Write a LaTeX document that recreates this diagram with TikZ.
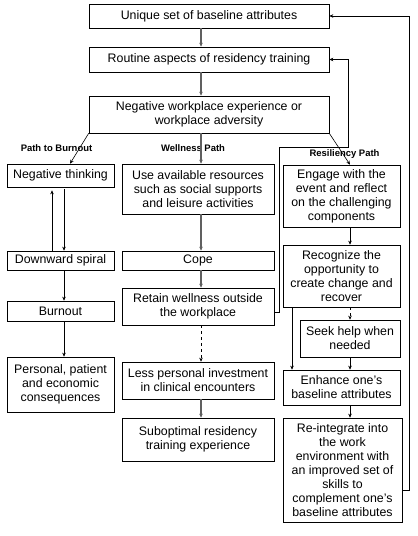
\documentclass[tikz,border=0pt]{standalone}
\usepackage{fontspec}
\setmainfont{Liberation Sans}
\usetikzlibrary{arrows.meta}

\begin{document}
\begin{tikzpicture}[x=1bp,y=-1bp,
  box/.style={draw,line width=0.6bp,inner sep=0pt,align=center,font=\fontsize{12.4}{14}\selectfont},
  pathlabel/.style={font=\fontsize{9.5}{11}\selectfont\bfseries},
  arr/.style={line width=0.6bp,-{Stealth[length=4bp,width=3.5bp]}},
  grayarr/.style={line width=1.6bp,gray!75!black,-{Stealth[length=4bp,width=3.5bp]}}]
\useasboundingbox (0,0) rectangle (417,536);

% spines of the three paths
\coordinate (wsp) at (201,0);
\coordinate (rsp) at (350,0);
\coordinate (rleft) at (292,0);
\coordinate (bdn) at (64,0);
\coordinate (bup) at (52,0);

 \node[box,minimum width=240bp,minimum height=24bp] (uniq) at (209,16) {Unique set of baseline attributes};
 \node[box,minimum width=240bp,minimum height=25bp] (routine) at (209,59.5) {Routine aspects of residency training};
 \node[box,minimum width=240bp,minimum height=37bp] (adverse) at (209,114.5) {Negative workplace experience or\\workplace adversity};

 \node[pathlabel] (lburn) at (56.5,148) {Path to Burnout};
 \node[pathlabel] (lwell) at (193,148) {Wellness Path};
 \node[pathlabel] (lres) at (344.5,154) {Resiliency Path};

% path to burnout
 \node[box,minimum width=107bp,minimum height=23bp] (negthink) at (60.5,175.5) {Negative thinking};
 \node[box,minimum width=107bp,minimum height=19bp] (spiral) at (60.5,260.5) {Downward spiral};
 \node[box,minimum width=107bp,minimum height=20bp] (burnout) at (60.5,311) {Burnout};
 \node[box,minimum width=107bp,minimum height=55bp] (personal) at (60.5,384.5) {Personal, patient\\and economic\\consequences};

% wellness path
 \node[box,minimum width=152bp,minimum height=50bp] (resources) at (198,189) {Use available resources\\such as social supports\\and leisure activities};
 \node[box,minimum width=152bp,minimum height=19bp] (cope) at (198,260.5) {Cope};
 \node[box,minimum width=152bp,minimum height=37bp] (retain) at (198,306.5) {Retain wellness outside\\the workplace};
 \node[box,minimum width=152bp,minimum height=37bp] (lessinv) at (198,380.5) {Less personal investment\\in clinical encounters};
 \node[box,minimum width=152bp,minimum height=43bp] (subopt) at (198,439.5) {Suboptimal residency\\training experience};

% resiliency path
 \node[box,minimum width=117bp,minimum height=62bp] (engage) at (341.5,196) {Engage with the\\event and reflect\\on the challenging\\components};
 \node[box,minimum width=117bp,minimum height=62bp] (recognize) at (341.5,276) {Recognize the\\opportunity to\\create change and\\recover};
 \node[box,minimum width=100bp,minimum height=37bp] (seek) at (350,338.5) {Seek help when\\needed};
 \node[box,minimum width=117bp,minimum height=35bp] (enhance) at (341.5,387.5) {Enhance one's\\baseline attributes};
 \node[box,minimum width=119bp,minimum height=104bp] (reint) at (342.5,470) {Re-integrate into\\the work\\environment with\\an improved set of\\skills to\\complement one's\\baseline attributes};

 \draw[grayarr] (uniq.south -| wsp) -- (routine.north -| wsp);
 \draw[grayarr] (routine.south -| wsp) -- (adverse.north -| wsp);
 \draw[grayarr] (adverse.south -| wsp) -- (resources.north -| wsp);
 \draw[arr] (adverse.south west) -- ([xshift=9.5bp]negthink.north);
 \draw[arr] (adverse.south east) -- (engage.north -| rsp);

 \draw[arr,shorten <=2bp] (negthink.south -| bdn) -- (spiral.north -| bdn);
 \draw[arr,shorten >=3bp] (spiral.north -| bup) -- (negthink.south -| bup);
 \draw[arr] (spiral.south -| bdn) -- (burnout.north -| bdn);
 \draw[arr] (burnout.south -| bdn) -- (personal.north -| bdn);

 \draw[grayarr] (resources.south -| wsp) -- (cope.north -| wsp);
 \draw[grayarr] (cope.south -| wsp) -- (retain.north -| wsp);
 \draw[arr,dashed] (retain.south -| wsp) -- (lessinv.north -| wsp);
 \draw[grayarr] (lessinv.south -| wsp) -- (subopt.north -| wsp);

 \draw[arr] (engage.south -| rsp) -- (recognize.north -| rsp);
 \draw[arr,dashed] (recognize.south -| rsp) -- (seek.north -| rsp);
 \draw[arr] (seek.south -| rsp) -- (enhance.north -| rsp);
 \draw[arr] (recognize.south -| rleft) -- (enhance.north -| rleft);
 \draw[arr] (enhance.south -| rsp) -- (reint.north -| rsp);

% feedback loops
 \draw[arr] ([yshift=-6bp]retain.east) -- ++(5,0) |- (348,147) |- (routine.east);
 \draw[arr] ([yshift=-20bp]reint.east) -- ++(7,0) |- (uniq.east);
\end{tikzpicture}
\end{document}
